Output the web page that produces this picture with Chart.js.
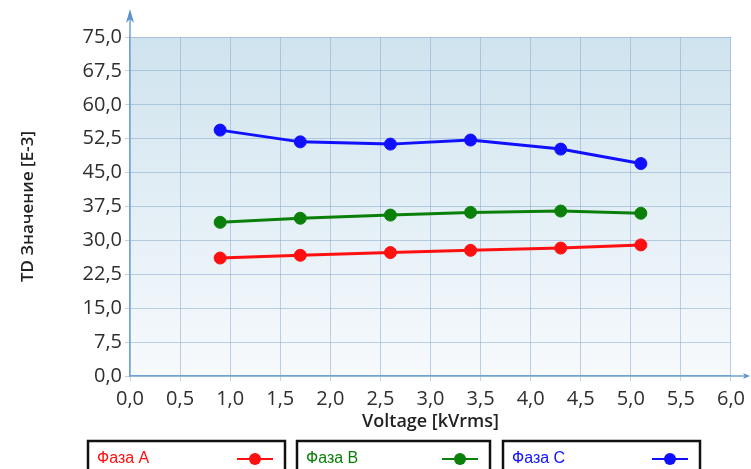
<!DOCTYPE html>
<html>
<head>
<meta charset="utf-8">
<script src="https://cdn.jsdelivr.net/npm/chart.js@4/dist/chart.umd.min.js"></script>
<style>
  html, body { margin: 0; padding: 0; background: #fff; }
  #wrap { width: 751px; height: 469px; position: relative; }
</style>
</head>
<body>
<div id="wrap"><canvas id="chart" width="751" height="469"></canvas></div>
<script>
const voltage = [0.9, 1.7, 2.6, 3.4, 4.3, 5.1];
const fazaA = [26.1, 26.7, 27.3, 27.8, 28.3, 29.0];
const fazaB = [34.0, 34.9, 35.6, 36.2, 36.5, 36.0];
const fazaC = [54.4, 51.8, 51.3, 52.2, 50.2, 47.0];
const seriesNames = ['Фаза A', 'Фаза B', 'Фаза C'];
const seriesColors = ['#ff1010', '#0a800a', '#1010ff'];

const FONT = '"Open Sans", "Noto Sans", sans-serif';
const comma = v => v.toFixed(1).replace('.', ',');

function toPoints(ys) {
  return voltage.map((x, i) => ({ x: x, y: ys[i] }));
}

const datasets = [fazaA, fazaB, fazaC].map((ys, i) => ({
  label: seriesNames[i],
  data: toPoints(ys),
  showLine: true,
  borderColor: seriesColors[i],
  backgroundColor: seriesColors[i],
  borderWidth: 3,
  pointBorderWidth: 1,
  pointRadius: 6,
  pointHoverRadius: 6,
  tension: 0
}));

// plot background gradient
const bgPlugin = {
  id: 'bg',
  beforeDraw(chart) {
    const { ctx, chartArea: a } = chart;
    const g = ctx.createLinearGradient(0, a.top, 0, a.bottom);
    g.addColorStop(0, '#cfe3ee');
    g.addColorStop(1, '#f7fafd');
    ctx.save();
    ctx.fillStyle = g;
    ctx.fillRect(a.left, a.top, a.right - a.left, a.bottom - a.top);
    ctx.restore();
  }
};

// axis arrows + legend boxes
const decoPlugin = {
  id: 'deco',
  afterDraw(chart) {
    const { ctx, chartArea: a } = chart;
    ctx.save();
    ctx.strokeStyle = '#6fa3d6';
    ctx.fillStyle = '#5a93cf';
    ctx.lineWidth = 1.5;
    // y axis extension
    ctx.beginPath();
    ctx.moveTo(a.left, a.top);
    ctx.lineTo(a.left, 14);
    ctx.stroke();
    ctx.beginPath();
    ctx.moveTo(a.left, 9);
    ctx.lineTo(a.left - 4, 23);
    ctx.lineTo(a.left, 19);
    ctx.lineTo(a.left + 4, 23);
    ctx.closePath();
    ctx.fill();
    // x axis extension
    ctx.beginPath();
    ctx.moveTo(a.right, a.bottom);
    ctx.lineTo(746, a.bottom);
    ctx.stroke();
    ctx.beginPath();
    ctx.moveTo(750, a.bottom);
    ctx.lineTo(743, a.bottom - 3);
    ctx.lineTo(745, a.bottom);
    ctx.lineTo(743, a.bottom + 3);
    ctx.closePath();
    ctx.fill();

    // legend boxes
    const boxes = [[88, 197], [297, 193], [503, 197]];
    chart.data.datasets.forEach((ds, i) => {
      const [bx, bw] = boxes[i];
      const by = 441;
      ctx.fillStyle = '#fff';
      ctx.fillRect(bx, by, bw, 40);
      ctx.strokeStyle = '#111';
      ctx.lineWidth = 2.5;
      ctx.strokeRect(bx, by, bw, 40);
      ctx.fillStyle = ds.borderColor;
      ctx.font = '16px "Liberation Sans", Arial, sans-serif';
      ctx.textBaseline = 'middle';
      ctx.textAlign = 'left';
      ctx.fillText(ds.label, bx + 9, by + 18);
      const mx = bx + bw - 30;
      ctx.strokeStyle = ds.borderColor;
      ctx.lineWidth = 2;
      ctx.beginPath();
      ctx.moveTo(mx - 18, by + 18);
      ctx.lineTo(mx + 18, by + 18);
      ctx.stroke();
      ctx.beginPath();
      ctx.arc(mx, by + 18, 6, 0, Math.PI * 2);
      ctx.fill();
    });
    ctx.restore();
  }
};

new Chart(document.getElementById('chart').getContext('2d'), {
  type: 'scatter',
  data: { datasets: datasets },
  options: {
    responsive: false,
    animation: false,
    layout: { padding: { top: 37, right: 3, bottom: 36, left: 12 } },
    plugins: {
      legend: { display: false },
      tooltip: { enabled: false }
    },
    scales: {
      x: {
        type: 'linear',
        min: 0,
        max: 6,
        afterFit(s) { s.height = 57; },
        ticks: {
          stepSize: 0.5,
          color: '#2e2e2e',
          font: { family: FONT, size: 20 },
          padding: 6,
          callback: v => comma(v)
        },
        grid: { color: 'rgba(130,165,200,0.5)', lineWidth: 1, tickLength: 5 },
        border: { color: '#6fa3d6', width: 1.5 },
        title: {
          display: true,
          text: 'Voltage [kVrms]',
          color: '#222',
          font: { family: FONT, size: 18, weight: '600' },
          padding: { top: 0, bottom: 0 }
        }
      },
      y: {
        min: 0,
        max: 75,
        afterFit(s) { s.width = 118; },
        ticks: {
          stepSize: 7.5,
          color: '#2e2e2e',
          font: { family: FONT, size: 20 },
          padding: 3,
          callback: v => comma(v)
        },
        grid: { color: 'rgba(130,165,200,0.5)', lineWidth: 1, tickLength: 5 },
        border: { color: '#6fa3d6', width: 1.5 },
        title: {
          display: true,
          text: 'TD Значение [E-3]',
          color: '#222',
          font: { family: FONT, size: 17, weight: '600' },
          padding: { top: 6, bottom: 0 }
        }
      }
    }
  },
  plugins: [bgPlugin, decoPlugin]
});
</script>
</body>
</html>
